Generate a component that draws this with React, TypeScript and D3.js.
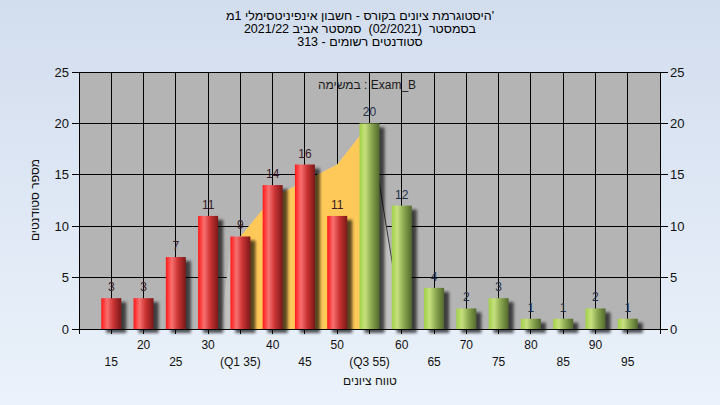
import React from "react";
import * as d3 from "d3";

const categories = [15, 20, 25, 30, 35, 40, 45, 50, 55, 60, 65, 70, 75, 80, 85, 90, 95];
const counts = [3, 3, 7, 11, 9, 14, 16, 11, 20, 12, 4, 2, 3, 1, 1, 2, 1];
const xTickLabels = ["15", "20", "25", "30", "(Q1 35)", "40", "45", "50", "(Q3 55)", "60", "65", "70", "75", "80", "85", "90", "95"];
const yTicks = [0, 5, 10, 15, 20, 25];
const passMark = 55;
const quartileAreaX = [35, 35, 40, 45, 50, 55, 55];
const quartileAreaY = [0, 9, 12.8, 14.4, 16, 20, 0];
const spreadAreaX = [32, 33.6, 35, 40, 45, 50, 55, 60.2];
const spreadAreaY = [0, 9, 9, 12.8, 14.4, 16, 20, 0];
const titleLines = [
  "היסטוגרמת ציונים בקורס - חשבון אינפיניטסימלי 1מ'",
  "בסמסטר\u00a0\u00a0(02/2021)\u00a0\u00a0סמסטר אביב 2021/22",
  "סטודנטים רשומים - 313",
];
const legendText = "במשימה : Exam_B";
const xTitle = "טווח ציונים";
const yTitle = "מספר סטודנטים";

const W = 720;
const H = 405;
const L = 79, R = 660, T = 72, B = 329;
const FONT = "'Liberation Sans', Arial, sans-serif";

export default function App() {
  const x = d3.scaleLinear().domain([10, 100]).range([L, R]);
  const y = d3.scaleLinear().domain([0, 25]).range([B, T]);
  const bw = 20;

  const area = (xs: number[], ys: number[]) =>
    d3.line<number>().x((_, i) => x(xs[i])).y((_, i) => y(ys[i]))(xs.map((_, i) => i)) + "Z";

  const lastSpread = spreadAreaX.length - 1;

  return (
    <svg width={W} height={H} style={{ position: "fixed", left: 0, top: 0 }} fontFamily={FONT}>
      <defs>
        <linearGradient id="bg" x1="0" y1="0" x2="0" y2="1">
          <stop offset="0" stopColor="#d2ddee" />
          <stop offset="1" stopColor="#ebf2fb" />
        </linearGradient>
        <linearGradient id="red" x1="0" y1="0" x2="1" y2="0">
          <stop offset="0" stopColor="#ff1818" />
          <stop offset="0.3" stopColor="#f87070" />
          <stop offset="0.6" stopColor="#cc3434" />
          <stop offset="1" stopColor="#7a1818" />
        </linearGradient>
        <linearGradient id="green" x1="0" y1="0" x2="1" y2="0">
          <stop offset="0" stopColor="#a2d048" />
          <stop offset="0.28" stopColor="#c6e07e" />
          <stop offset="0.6" stopColor="#8aa850" />
          <stop offset="1" stopColor="#52692c" />
        </linearGradient>
        <filter id="blur" x="-50%" y="-20%" width="200%" height="140%">
          <feGaussianBlur stdDeviation="1.6" />
        </filter>
      </defs>
      <rect x={0} y={0} width={W} height={H} fill="url(#bg)" />
      <rect x={L} y={T} width={R - L} height={B - T} fill="#b4b4b4" />

      {/* grid */}
      {yTicks.map((t) => (
        <line key={"h" + t} x1={L - 7} x2={R + 8} y1={y(t)} y2={y(t)} stroke="#000" strokeWidth={1} shapeRendering="crispEdges" />
      ))}
      {categories.map((c) => (
        <line key={"v" + c} x1={x(c)} x2={x(c)} y1={T} y2={B + 5} stroke="#000" strokeWidth={1} shapeRendering="crispEdges" />
      ))}

      {/* areas */}
      <path d={area(spreadAreaX, spreadAreaY)} fill="#c2c2c2" />
      <line
        x1={x(spreadAreaX[lastSpread - 1])}
        y1={y(spreadAreaY[lastSpread - 1])}
        x2={x(spreadAreaX[lastSpread])}
        y2={y(spreadAreaY[lastSpread])}
        stroke="#3a3a3a"
        strokeWidth={1}
      />
      <path d={area(quartileAreaX, quartileAreaY)} fill="#ffc95a" />

      {/* bar shadows */}
      {categories.map((c, i) => (
        <rect key={"s" + c} x={x(c) - bw / 2 + 5} y={y(counts[i]) + 4} width={bw} height={B - y(counts[i])} fill="#000" opacity={0.65} filter="url(#blur)" />
      ))}
      {/* bars */}
      {categories.map((c, i) => (
        <rect key={"b" + c} x={x(c) - bw / 2} y={y(counts[i])} width={bw} height={B - y(counts[i])} fill={c < passMark ? "url(#red)" : "url(#green)"} />
      ))}
      {/* bar labels */}
      {categories.map((c, i) => (
        <text key={"l" + c} x={x(c)} y={y(counts[i]) - 7} textAnchor="middle" fontSize={12} fill={c < passMark ? "#3a1a28" : "#22304a"}>
          {counts[i]}
        </text>
      ))}

      {/* axes */}
      <line x1={L} x2={L} y1={T} y2={B + 5} stroke="#000" shapeRendering="crispEdges" />
      <line x1={R} x2={R} y1={T} y2={B + 5} stroke="#000" shapeRendering="crispEdges" />
      <line x1={L} x2={R} y1={B} y2={B} stroke="#000" shapeRendering="crispEdges" />
      <line x1={L} x2={R} y1={T} y2={T} stroke="#000" shapeRendering="crispEdges" />

      {yTicks.map((t) => (
        <g key={"yt" + t}>
          <text x={69} y={y(t) + 4.5} textAnchor="end" fontSize={13} fill="#111">{t}</text>
          <text x={670} y={y(t) + 4.5} textAnchor="start" fontSize={13} fill="#111">{t}</text>
        </g>
      ))}
      {categories.map((c, i) => (
        <text key={"xt" + c} x={x(c)} y={i % 2 === 1 ? 349 : 366} textAnchor="middle" fontSize={12} fill="#111">
          {xTickLabels[i]}
        </text>
      ))}

      {/* titles */}
      {titleLines.map((s, i) => (
        <text key={"t" + i} x={360} y={20 + i * 13} textAnchor="middle" fontSize={12.5} fill="#000">{s}</text>
      ))}
      <text x={367} y={89} textAnchor="middle" fontSize={12} fill="#1a1a1a">{legendText}</text>
      <text x={370} y={385} textAnchor="middle" fontSize={12} fill="#111">{xTitle}</text>
      <text transform="translate(39,200) rotate(-90)" textAnchor="middle" fontSize={12} fill="#111">{yTitle}</text>
    </svg>
  );
}
